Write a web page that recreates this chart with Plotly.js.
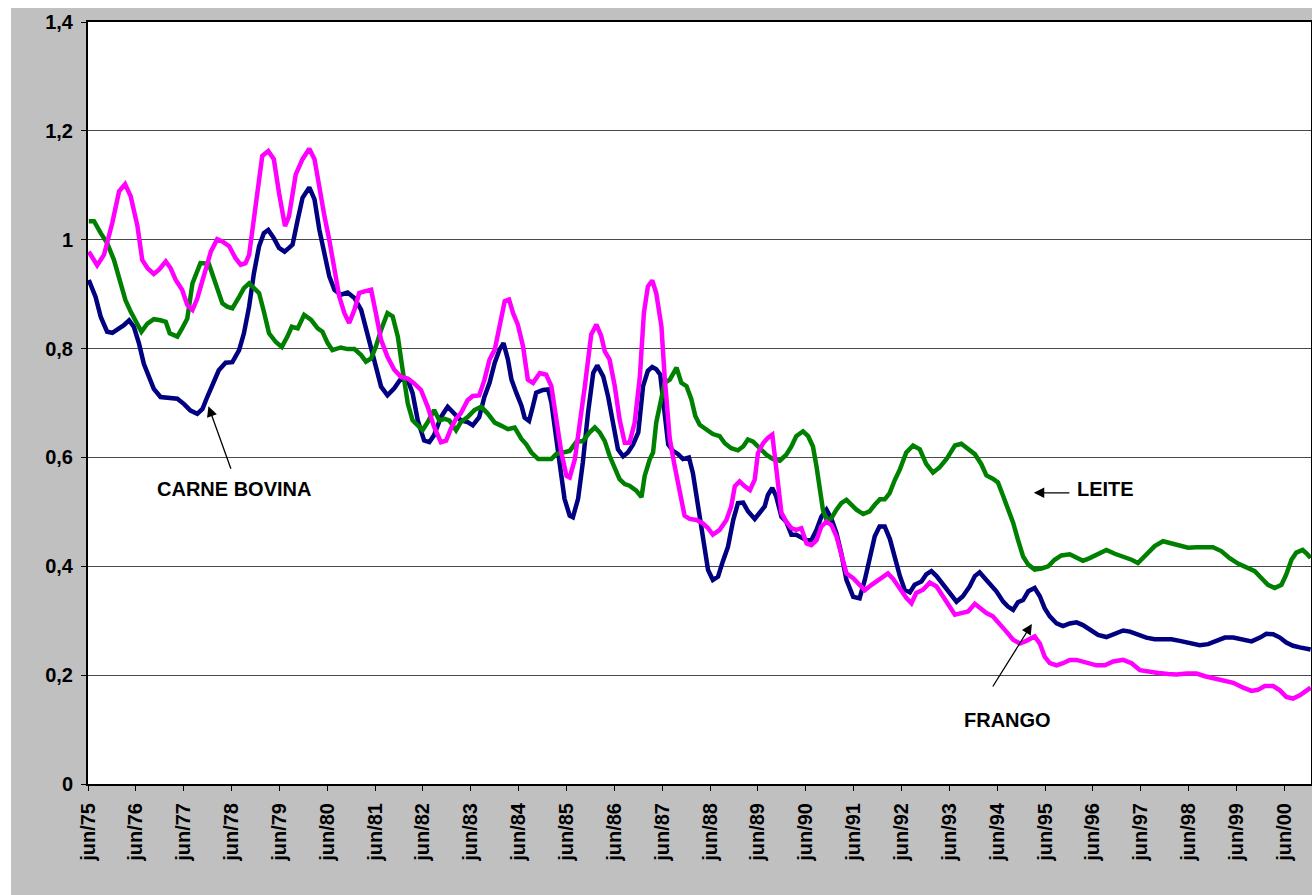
<!DOCTYPE html>
<html>
<head>
<meta charset="utf-8">
<script src="https://cdn.plot.ly/plotly-3.0.1.min.js"></script>
<style>
  html, body { margin: 0; padding: 0; background: #ffffff; }
  #chart { position: absolute; left: 11px; top: 8px; width: 1301px; height: 887px; }
</style>
</head>
<body>
<div id="chart"></div>
<script>
// Month offsets counted from jun/75 (0 = jun/75, 12 = jun/76, ...)
const tickMonths = [0,12,24,36,48,60,72,84,96,108,120,132,144,156,168,180,192,204,216,228,240,252,264,276,288,300];
const tickLabels = ['jun/75','jun/76','jun/77','jun/78','jun/79','jun/80','jun/81','jun/82','jun/83','jun/84','jun/85','jun/86','jun/87','jun/88','jun/89','jun/90','jun/91','jun/92','jun/93','jun/94','jun/95','jun/96','jun/97','jun/98','jun/99','jun/00'];
const yTickVals = [0,0.2,0.4,0.6,0.8,1,1.2,1.4];
const yTickText = ['0','0,2','0,4','0,6','0,8','1','1,2','1,4'];

// CARNE BOVINA (navy)
const bovinaMonths = [0.2,1.9,3.2,4.8,6.1,7.8,9.0,10.3,11.5,12.8,14.0,15.3,16.5,18.2,20.3,22.4,24.1,25.7,27.4,28.7,29.9,31.2,32.8,34.5,36.2,37.9,39.1,40.4,41.6,42.9,44.1,45.2,46.6,47.9,49.3,50.4,51.3,52.6,53.8,55.5,56.8,58.0,59.3,60.5,61.8,63.4,65.1,66.8,68.5,70.1,71.8,73.5,75.1,76.8,78.5,80.2,81.4,82.7,84.3,85.6,86.8,88.5,90.2,91.9,93.5,95.2,96.5,98.1,99.4,100.7,102.0,103.2,104.2,105.3,106.2,107.4,108.7,109.5,110.6,111.6,112.4,114.1,115.4,116.2,117.4,118.3,119.5,120.8,121.6,122.9,124.1,125.4,126.7,127.7,129.2,130.4,131.7,132.9,134.2,135.4,136.7,138.0,139.2,140.4,141.5,142.5,143.5,144.6,145.5,146.7,148.0,149.2,150.7,151.7,153.0,154.2,155.5,156.7,158.0,159.2,160.5,161.8,163.0,164.3,165.5,167.2,168.4,169.7,170.5,171.6,172.6,173.9,175.1,176.4,177.6,178.9,180.2,181.4,182.7,183.9,185.2,186.4,187.7,188.9,190.2,191.9,193.5,194.8,196.0,197.3,198.5,199.8,201.1,202.3,203.6,204.8,206.1,207.3,209.0,210.2,211.5,212.8,214.4,216.1,217.8,219.4,221.1,222.4,223.6,224.9,226.1,227.8,229.5,230.7,232.0,233.2,234.5,235.8,237.4,238.7,239.9,241.2,242.9,244.5,246.2,247.9,249.5,251.2,253.3,255.4,257.5,259.6,261.3,263.3,265.4,267.5,269.6,271.7,273.8,276.3,278.8,280.9,283.0,285.1,287.2,289.7,291.8,293.9,295.5,297.2,298.9,300.5,302.2,303.9,306.6];
const bovinaValues = [0.926,0.895,0.858,0.831,0.829,0.837,0.843,0.852,0.840,0.809,0.772,0.748,0.726,0.711,0.709,0.708,0.698,0.686,0.680,0.689,0.711,0.735,0.760,0.774,0.775,0.797,0.828,0.877,0.938,0.988,1.012,1.018,1.003,0.985,0.978,0.985,0.991,1.037,1.077,1.096,1.074,1.019,0.970,0.933,0.908,0.899,0.903,0.893,0.871,0.828,0.779,0.730,0.714,0.727,0.745,0.742,0.718,0.668,0.631,0.628,0.641,0.674,0.693,0.681,0.668,0.665,0.659,0.674,0.711,0.737,0.774,0.798,0.810,0.780,0.743,0.719,0.695,0.673,0.667,0.695,0.719,0.724,0.725,0.701,0.640,0.585,0.524,0.493,0.490,0.524,0.591,0.682,0.755,0.769,0.749,0.713,0.658,0.615,0.602,0.609,0.624,0.646,0.731,0.759,0.766,0.762,0.752,0.670,0.624,0.612,0.606,0.597,0.600,0.571,0.510,0.449,0.393,0.375,0.381,0.409,0.436,0.485,0.516,0.517,0.501,0.487,0.498,0.510,0.531,0.544,0.528,0.491,0.482,0.458,0.458,0.452,0.448,0.448,0.467,0.491,0.504,0.488,0.461,0.424,0.375,0.344,0.341,0.375,0.412,0.455,0.473,0.473,0.450,0.415,0.382,0.357,0.352,0.366,0.372,0.385,0.391,0.382,0.366,0.351,0.335,0.345,0.363,0.382,0.389,0.378,0.369,0.354,0.335,0.326,0.320,0.334,0.338,0.354,0.360,0.345,0.323,0.308,0.295,0.290,0.295,0.297,0.292,0.285,0.274,0.270,0.277,0.282,0.280,0.274,0.269,0.266,0.266,0.266,0.263,0.258,0.255,0.257,0.262,0.269,0.269,0.266,0.262,0.269,0.276,0.275,0.269,0.260,0.254,0.251,0.247];

// FRANGO (magenta)
const frangoMonths = [0.2,2.3,4.0,6.1,7.8,9.3,10.7,12.4,13.6,14.9,16.5,17.8,19.5,20.7,22.0,23.6,24.9,26.2,27.4,29.1,30.8,32.4,33.7,35.4,37.0,38.3,39.5,40.4,41.2,42.5,43.7,45.2,46.6,47.9,49.4,50.4,52.1,53.8,55.5,56.8,58.0,59.3,60.5,61.8,63.0,64.3,65.5,66.8,68.0,69.3,71.0,72.2,73.5,75.1,76.8,78.5,80.2,81.8,83.5,85.2,86.8,88.5,89.8,91.0,92.3,93.5,95.2,96.5,98.1,99.4,100.7,102.0,103.2,104.5,105.6,106.6,107.8,109.1,110.3,111.6,113.3,114.9,116.2,117.4,118.7,120.0,120.8,122.1,123.3,124.6,126.2,127.5,128.7,129.6,130.8,132.1,133.3,134.6,135.8,137.1,138.4,139.4,140.4,141.5,142.5,143.8,144.6,145.9,147.1,148.4,149.6,150.9,152.6,154.2,155.5,156.7,158.4,160.1,161.3,162.2,163.4,164.7,166.0,167.2,168.0,169.3,170.5,171.6,172.6,173.9,175.1,176.4,177.6,178.9,180.2,181.4,182.7,183.9,185.2,186.4,187.7,188.9,190.2,191.9,193.5,194.8,196.5,198.1,199.4,200.6,201.9,203.6,205.2,206.5,207.7,209.4,211.1,212.8,214.4,216.1,217.4,219.0,220.7,222.4,223.6,225.3,226.9,228.6,230.3,232.0,233.7,235.3,237.4,238.7,239.9,241.2,242.9,244.5,246.2,247.9,249.5,251.2,252.9,255.0,257.1,259.6,261.7,263.8,265.8,268.4,270.9,273.0,275.5,278.0,280.1,282.6,285.1,287.2,289.7,291.8,293.4,295.1,297.2,298.9,300.5,302.2,303.9,305.5,306.6];
const frangoValues = [0.978,0.953,0.972,1.031,1.089,1.102,1.080,1.025,0.963,0.948,0.937,0.945,0.960,0.948,0.926,0.908,0.880,0.871,0.892,0.935,0.978,1.001,0.997,0.988,0.966,0.954,0.957,0.972,1.018,1.089,1.154,1.163,1.148,1.086,1.025,1.043,1.120,1.148,1.167,1.148,1.092,1.043,1.000,0.945,0.896,0.865,0.847,0.871,0.902,0.905,0.908,0.865,0.816,0.785,0.761,0.748,0.745,0.736,0.724,0.693,0.656,0.628,0.631,0.653,0.671,0.681,0.705,0.713,0.714,0.742,0.780,0.798,0.841,0.887,0.890,0.865,0.844,0.804,0.743,0.737,0.755,0.752,0.731,0.670,0.609,0.566,0.563,0.597,0.658,0.731,0.826,0.844,0.823,0.795,0.780,0.731,0.670,0.627,0.627,0.664,0.749,0.865,0.914,0.925,0.902,0.841,0.749,0.634,0.585,0.542,0.493,0.487,0.485,0.479,0.470,0.458,0.467,0.485,0.510,0.547,0.556,0.547,0.540,0.559,0.608,0.626,0.636,0.642,0.571,0.498,0.482,0.470,0.467,0.470,0.442,0.439,0.448,0.473,0.482,0.476,0.455,0.424,0.387,0.378,0.366,0.356,0.366,0.375,0.381,0.387,0.377,0.357,0.342,0.332,0.351,0.357,0.370,0.363,0.345,0.323,0.311,0.314,0.317,0.331,0.323,0.314,0.308,0.295,0.280,0.265,0.258,0.263,0.271,0.258,0.234,0.222,0.218,0.222,0.228,0.228,0.225,0.222,0.218,0.218,0.225,0.228,0.222,0.209,0.206,0.204,0.202,0.201,0.203,0.203,0.198,0.194,0.191,0.186,0.177,0.171,0.173,0.180,0.180,0.172,0.160,0.157,0.163,0.172,0.177];

// LEITE (green)
const leiteMonths = [0.2,1.5,3.2,4.8,6.5,8.2,9.4,10.7,11.9,13.4,14.9,16.5,18.2,19.5,20.5,22.4,23.6,24.9,26.2,28.2,30.3,32.0,33.7,34.9,36.2,37.9,39.1,40.4,41.6,42.9,44.1,45.4,47.1,48.6,50.0,51.1,52.6,54.2,55.9,57.6,58.8,60.1,61.3,63.4,65.1,66.8,68.5,69.7,71.0,72.2,73.5,75.1,76.4,77.7,78.9,80.2,81.4,82.7,83.9,85.2,86.8,88.1,89.4,90.6,92.3,93.5,95.2,96.9,98.6,100.2,102.0,103.7,105.3,107.0,108.7,109.9,111.2,112.9,114.5,116.2,117.4,119.1,120.8,122.5,124.1,125.8,127.1,128.3,129.6,130.8,132.1,133.3,134.6,135.8,137.5,138.8,139.6,140.9,141.7,142.5,143.4,144.6,145.9,147.6,148.8,150.1,151.3,152.3,153.4,155.1,156.7,158.4,159.7,161.3,163.0,164.3,165.5,166.8,168.4,170.1,171.8,173.5,175.1,176.4,177.6,179.3,180.6,181.8,182.7,183.5,184.3,185.2,186.4,187.7,188.9,190.2,191.4,192.7,194.4,196.0,197.3,198.6,199.8,201.0,202.3,203.6,205.2,206.9,208.6,210.2,211.9,213.6,215.3,217.4,219.0,220.7,222.4,224.0,225.3,226.9,228.2,229.5,230.7,232.0,233.2,234.5,235.8,237.4,239.1,240.8,242.4,244.1,246.2,247.9,249.5,251.2,253.3,255.4,257.5,259.6,261.7,263.3,265.4,267.5,269.6,271.7,273.8,275.9,278.0,280.1,282.1,284.2,286.3,288.4,290.5,292.6,294.3,295.9,297.6,299.3,300.5,301.8,303.0,304.6,305.7,306.6];
const leiteValues = [1.034,1.034,1.012,0.994,0.963,0.920,0.889,0.868,0.852,0.831,0.846,0.854,0.852,0.849,0.828,0.822,0.837,0.855,0.920,0.957,0.956,0.920,0.883,0.877,0.874,0.895,0.911,0.920,0.911,0.902,0.868,0.828,0.812,0.803,0.822,0.840,0.837,0.862,0.853,0.837,0.831,0.810,0.797,0.802,0.799,0.799,0.788,0.776,0.782,0.804,0.834,0.865,0.859,0.822,0.761,0.699,0.668,0.659,0.650,0.665,0.687,0.668,0.671,0.668,0.650,0.665,0.674,0.687,0.693,0.681,0.664,0.658,0.652,0.655,0.634,0.624,0.609,0.597,0.597,0.597,0.606,0.609,0.612,0.629,0.630,0.646,0.655,0.646,0.630,0.603,0.582,0.560,0.551,0.548,0.539,0.527,0.566,0.597,0.609,0.664,0.695,0.737,0.743,0.765,0.737,0.731,0.707,0.676,0.660,0.651,0.643,0.639,0.626,0.617,0.613,0.620,0.633,0.629,0.617,0.605,0.597,0.594,0.605,0.620,0.639,0.648,0.639,0.620,0.583,0.540,0.504,0.485,0.488,0.504,0.516,0.522,0.513,0.504,0.496,0.501,0.513,0.523,0.523,0.534,0.558,0.578,0.609,0.622,0.615,0.588,0.572,0.582,0.597,0.622,0.625,0.615,0.606,0.588,0.567,0.561,0.554,0.529,0.505,0.480,0.449,0.418,0.403,0.394,0.396,0.400,0.412,0.420,0.422,0.415,0.410,0.415,0.423,0.430,0.423,0.418,0.412,0.406,0.422,0.437,0.446,0.442,0.437,0.434,0.435,0.436,0.435,0.428,0.415,0.405,0.399,0.391,0.378,0.366,0.360,0.366,0.385,0.412,0.425,0.430,0.423,0.415];

const fontFam = '"Liberation Sans", Arial, sans-serif';

const traces = [
  {x: bovinaMonths, y: bovinaValues, name: 'CARNE BOVINA', type: 'scatter', mode: 'lines',
   line: {color: '#000080', width: 4.5}},
  {x: leiteMonths, y: leiteValues, name: 'LEITE', type: 'scatter', mode: 'lines',
   line: {color: '#008000', width: 4.5}},
  {x: frangoMonths, y: frangoValues, name: 'FRANGO', type: 'scatter', mode: 'lines',
   line: {color: '#FF00FF', width: 4.5}}
];

const labelFont = {family: fontFam, size: 20, color: '#000000', weight: 700};

const layout = {
  width: 1301, height: 887,
  paper_bgcolor: '#C0C0C0', plot_bgcolor: '#FFFFFF',
  margin: {l: 77, r: 1, t: 14, b: 111, pad: 0},
  showlegend: false,
  xaxis: {
    range: [0, 306.7], tickmode: 'array', tickvals: tickMonths, ticktext: tickLabels,
    tickangle: -90, ticks: 'outside', ticklen: 5, tickcolor: '#000000', tickwidth: 1,
    showgrid: false, zeroline: false, showline: true, linecolor: '#000000', linewidth: 2, mirror: true,
    ticklabelstandoff: 4,
    tickfont: {family: fontFam, size: 20, color: '#000000', weight: 700}
  },
  yaxis: {
    range: [0, 1.4], tickmode: 'array', tickvals: yTickVals, ticktext: yTickText,
    ticks: 'outside', ticklen: 5, tickcolor: '#000000', tickwidth: 1,
    showgrid: true, gridcolor: '#4a4a4a', gridwidth: 1, zeroline: false,
    showline: true, linecolor: '#000000', linewidth: 2, mirror: true,
    ticklabelstandoff: 4,
    tickfont: {family: fontFam, size: 20, color: '#000000', weight: 700}
  },
  annotations: [
    {x: 30.2, y: 0.694, xref: 'x', yref: 'y', ax: 23, ay: 64, text: '', showarrow: true,
     arrowhead: 2, arrowsize: 1.6, arrowwidth: 1.3, arrowcolor: '#000000'},
    {x: 36.5, y: 0.542, xref: 'x', yref: 'y', text: 'CARNE BOVINA', showarrow: false, font: labelFont},
    {x: 237.2, y: 0.535, xref: 'x', yref: 'y', ax: 37, ay: 0, text: '', showarrow: true,
     arrowhead: 2, arrowsize: 1.6, arrowwidth: 1.3, arrowcolor: '#000000'},
    {x: 255.2, y: 0.542, xref: 'x', yref: 'y', text: 'LEITE', showarrow: false, font: labelFont},
    {x: 236.7, y: 0.294, xref: 'x', yref: 'y', ax: -40, ay: 64, text: '', showarrow: true,
     arrowhead: 2, arrowsize: 1.6, arrowwidth: 1.3, arrowcolor: '#000000'},
    {x: 230.6, y: 0.118, xref: 'x', yref: 'y', text: 'FRANGO', showarrow: false, font: labelFont}
  ]
};

Plotly.newPlot('chart', traces, layout, {displayModeBar: false, staticPlot: true});
</script>
</body>
</html>
